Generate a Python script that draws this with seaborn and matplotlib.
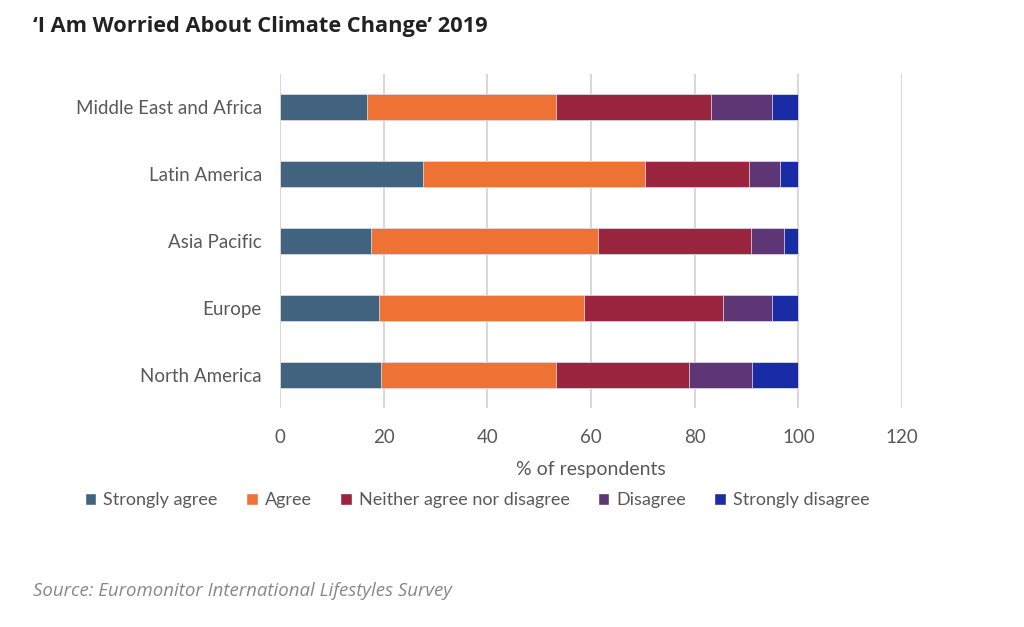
import pandas as pd
import numpy as np
import seaborn as sns
import matplotlib.pyplot as plt
from matplotlib.patches import Patch

regions = ['Middle East and Africa', 'Latin America', 'Asia Pacific', 'Europe', 'North America']
levels = ['Strongly agree', 'Agree', 'Neither agree nor disagree', 'Disagree', 'Strongly disagree']

strongly_agree = [16.7, 27.6, 17.5, 19.1, 19.5]
agree = [36.5, 42.9, 43.8, 39.6, 33.7]
neither = [30.0, 20.0, 29.5, 26.7, 25.7]
disagree = [11.8, 6.0, 6.5, 9.6, 12.2]
strongly_disagree = [5.0, 3.5, 2.7, 5.0, 8.9]

colors = ['#426380', '#ED7234', '#9B243E', '#5E3575', '#1A2CA5']

df = pd.DataFrame({
    'Region': regions,
    'Strongly agree': strongly_agree,
    'Agree': agree,
    'Neither agree nor disagree': neither,
    'Disagree': disagree,
    'Strongly disagree': strongly_disagree,
})

# cumulative sums for stacking
cum = df[levels].cumsum(axis=1)
cum['Region'] = df['Region']

sns.set_style('white')
plt.rcParams['font.family'] = ['Lato', 'DejaVu Sans']

fig = plt.figure(figsize=(10.24, 6.27), dpi=100)
ax = fig.add_axes([0.2734, 0.3493, 0.6075, 0.5327])

# draw from the outermost segment in so each layer shows its own part
for lev, col in reversed(list(zip(levels, colors))):
    sns.barplot(data=cum, x=lev, y='Region', order=regions, color=col,
                orient='h', width=0.39, saturation=1, ax=ax,
                edgecolor='#e8e8f0', linewidth=0.5)

ax.set_xlim(0, 120)
ax.set_ylim(4.5, -0.5)
ax.set_xticks(np.arange(0, 121, 20))
ax.grid(axis='x', color='#d9d9d9', linewidth=1.5)
ax.set_axisbelow(True)
sns.despine(ax=ax, left=True, bottom=True)
ax.tick_params(axis='both', length=0, labelsize=13.5, colors='#595959')
ax.tick_params(axis='x', pad=15)
ax.tick_params(axis='y', pad=13)
ax.set_ylabel('')
ax.set_xlabel('% of respondents', fontsize=14, color='#595959', labelpad=11)

handles = [Patch(facecolor=c, label=l) for l, c in zip(levels, colors)]
fig.legend(handles=handles, loc='center', bbox_to_anchor=(0.466, 0.202), ncol=5,
           frameon=False, fontsize=13, labelcolor='#595959',
           handlelength=0.65, handleheight=0.65, handletextpad=0.4, columnspacing=1.55)

fig.text(0.032, 0.958, '\u2018I Am Worried About Climate Change\u2019 2019',
         fontsize=15.7, fontweight='bold', color='#222222', va='center',
         family=['Open Sans', 'DejaVu Sans'])
fig.text(0.032, 0.057, 'Source: Euromonitor International Lifestyles Survey',
         fontsize=13.4, style='italic', color='#888888', va='center',
         family=['Open Sans', 'DejaVu Sans'])

fig.savefig('out.png', dpi=100)
